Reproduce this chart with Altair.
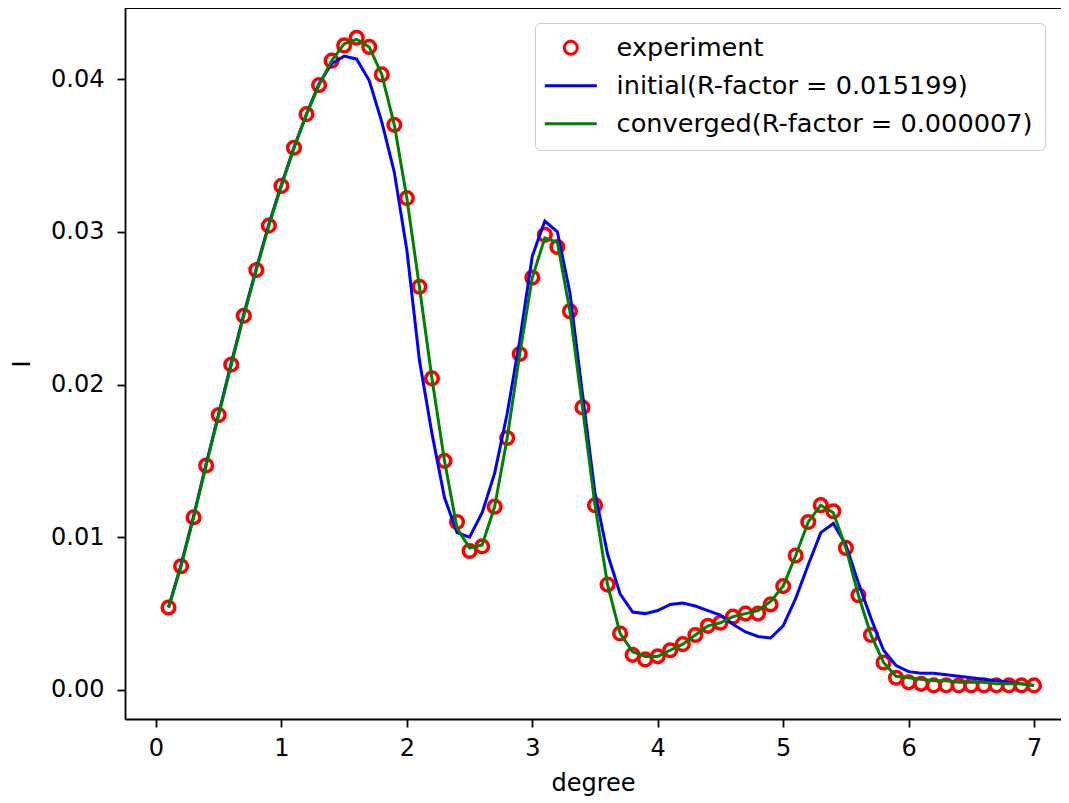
import altair as alt
import pandas as pd

# ---------------- data ----------------
degree = [0.1, 0.2, 0.3, 0.4, 0.5, 0.6, 0.7, 0.8, 0.9, 1.0,
          1.1, 1.2, 1.3, 1.4, 1.5, 1.6, 1.7, 1.8, 1.9, 2.0,
          2.1, 2.2, 2.3, 2.4, 2.5, 2.6, 2.7, 2.8, 2.9, 3.0,
          3.1, 3.2, 3.3, 3.4, 3.5, 3.6, 3.7, 3.8, 3.9, 4.0,
          4.1, 4.2, 4.3, 4.4, 4.5, 4.6, 4.7, 4.8, 4.9, 5.0,
          5.1, 5.2, 5.3, 5.4, 5.5, 5.6, 5.7, 5.8, 5.9, 6.0,
          6.1, 6.2, 6.3, 6.4, 6.5, 6.6, 6.7, 6.8, 6.9, 7.0]

experiment = [0.0054, 0.0081, 0.0113, 0.0147, 0.0180, 0.0213, 0.0245, 0.0275, 0.0304, 0.0330,
              0.0355, 0.0377, 0.0396, 0.0412, 0.0422, 0.0427, 0.0421, 0.0403, 0.0370, 0.0322,
              0.0264, 0.0204, 0.0150, 0.0110, 0.0091, 0.0094, 0.0120, 0.0165, 0.0220, 0.0270,
              0.0298, 0.0290, 0.0248, 0.0185, 0.0121, 0.0069, 0.0037, 0.0023, 0.0020, 0.0022,
              0.0026, 0.0030, 0.0036, 0.0042, 0.0044, 0.0048, 0.0050, 0.0050, 0.0056, 0.0068,
              0.0088, 0.0110, 0.0121, 0.0117, 0.0093, 0.0062, 0.0036, 0.0018, 0.0008, 0.0005,
              0.0004, 0.0003, 0.0003, 0.0003, 0.0003, 0.0003, 0.0003, 0.0003, 0.0003, 0.0003]

initial = [0.0054, 0.0082, 0.0114, 0.0148, 0.0181, 0.0214, 0.0246, 0.0276, 0.0305, 0.0331,
           0.0355, 0.0377, 0.0397, 0.0410, 0.0415, 0.0413, 0.0399, 0.0372, 0.0339, 0.0288,
           0.0216, 0.0168, 0.0126, 0.0103, 0.0100, 0.0116, 0.0142, 0.0181, 0.0229, 0.0284,
           0.0307, 0.0300, 0.0260, 0.0194, 0.0129, 0.0089, 0.0063, 0.0051, 0.0050, 0.0052,
           0.0056, 0.0057, 0.0055, 0.0052, 0.0049, 0.0043, 0.0038, 0.0035, 0.0034, 0.0042,
           0.0060, 0.0082, 0.0103, 0.0109, 0.0095, 0.0070, 0.0047, 0.0026, 0.0016, 0.0012,
           0.0011, 0.0011, 0.0010, 0.0009, 0.0008, 0.0007, 0.0006, 0.0005, 0.0004, 0.0003]

converged = [0.0054, 0.0081, 0.0113, 0.0147, 0.0180, 0.0213, 0.0245, 0.0275, 0.0304, 0.0330,
             0.0355, 0.0377, 0.0396, 0.0412, 0.0423, 0.0426, 0.0421, 0.0403, 0.0370, 0.0322,
             0.0264, 0.0204, 0.0150, 0.0106, 0.0093, 0.0095, 0.0120, 0.0165, 0.0220, 0.0270,
             0.0296, 0.0293, 0.0248, 0.0185, 0.0121, 0.0069, 0.0037, 0.0025, 0.0022, 0.0022,
             0.0026, 0.0030, 0.0036, 0.0042, 0.0044, 0.0048, 0.0050, 0.0052, 0.0058, 0.0068,
             0.0088, 0.0110, 0.0121, 0.0116, 0.0093, 0.0062, 0.0036, 0.0018, 0.0009, 0.0008,
             0.0007, 0.0006, 0.0006, 0.0005, 0.0005, 0.0005, 0.0004, 0.0004, 0.0004, 0.0003]

labels = ["experiment",
          "initial(R-factor = 0.015199)",
          "converged(R-factor = 0.000007)"]
colors = ["#ff0000", "#0000ff", "#008000"]
x_ticks = [0, 1, 2, 3, 4, 5, 6, 7]
y_ticks = [0.00, 0.01, 0.02, 0.03, 0.04]

# ---------------- table ----------------
rows = []
for i, d in enumerate(degree):
    rows.append({"degree": d, "I": experiment[i], "series": labels[0], "order": 0})
    rows.append({"degree": d, "I": initial[i], "series": labels[1], "order": 1})
    rows.append({"degree": d, "I": converged[i], "series": labels[2], "order": 2})
df = pd.DataFrame(rows)

W, H = 936, 711
FONT = "DejaVu Sans"

xscale = alt.Scale(domain=[-0.247, 7.215], nice=False, zero=False)
yscale = alt.Scale(domain=[-0.0019, 0.04465], nice=False, zero=False)

axis_common = dict(grid=False, tickSize=8, tickWidth=1.8, domainWidth=1.8,
                   domainColor="black", tickColor="black", labelColor="black",
                   titleColor="black", labelFont=FONT, titleFont=FONT,
                   labelFontSize=24, titleFontSize=24, titleFontWeight="normal")

xaxis = alt.Axis(values=x_ticks, format="d", title="degree", titlePadding=11,
                 labelPadding=9, **axis_common)
yaxis = alt.Axis(values=y_ticks, format=".2f", title="I", titlePadding=16,
                 labelPadding=13, **axis_common)

legend = alt.Legend(title=None, orient="none", legendX=410, legendY=15,
                    labelFont=FONT, labelFontSize=25.6, labelColor="black", labelLimit=1000,
                    symbolSize=169, symbolStrokeWidth=3, padding=12,
                    strokeColor="#cccccc", fillColor="white", cornerRadius=5,
                    rowPadding=11, labelOffset=33, symbolOffset=11)

color = alt.Color("series:N", scale=alt.Scale(domain=labels, range=colors), legend=legend)
shape = alt.Shape("series:N", scale=alt.Scale(domain=labels,
                                              range=["circle", "M-4,0H4", "M-4,0H4"]),
                  legend=legend)

base = alt.Chart(df)

pts = base.transform_filter(alt.datum.order == 0).mark_point(
    filled=False, size=160, strokeWidth=3.5, opacity=1
).encode(
    x=alt.X("degree:Q", scale=xscale, axis=xaxis),
    y=alt.Y("I:Q", scale=yscale, axis=yaxis),
    color=color, shape=shape,
)

line_init = base.transform_filter(alt.datum.order == 1).mark_line(strokeWidth=3).encode(
    x=alt.X("degree:Q", scale=xscale),
    y=alt.Y("I:Q", scale=yscale),
    color=color,
)

line_conv = base.transform_filter(alt.datum.order == 2).mark_line(strokeWidth=3).encode(
    x=alt.X("degree:Q", scale=xscale),
    y=alt.Y("I:Q", scale=yscale),
    color=color,
)

top_frame = base.mark_rule(color="black", strokeWidth=1.8).encode(
    x=alt.value(0), x2=alt.value(W), y=alt.value(0)
)

chart = alt.layer(pts, line_init, line_conv, top_frame).properties(
    width=W, height=H,
    autosize=alt.AutoSizeParams(type="none"),
    padding={"left": 117, "top": 0, "right": 0, "bottom": 84},
).configure_view(stroke=None).configure(background="white")

chart.save("out.html", embed_options={"renderer": "svg", "actions": False})
